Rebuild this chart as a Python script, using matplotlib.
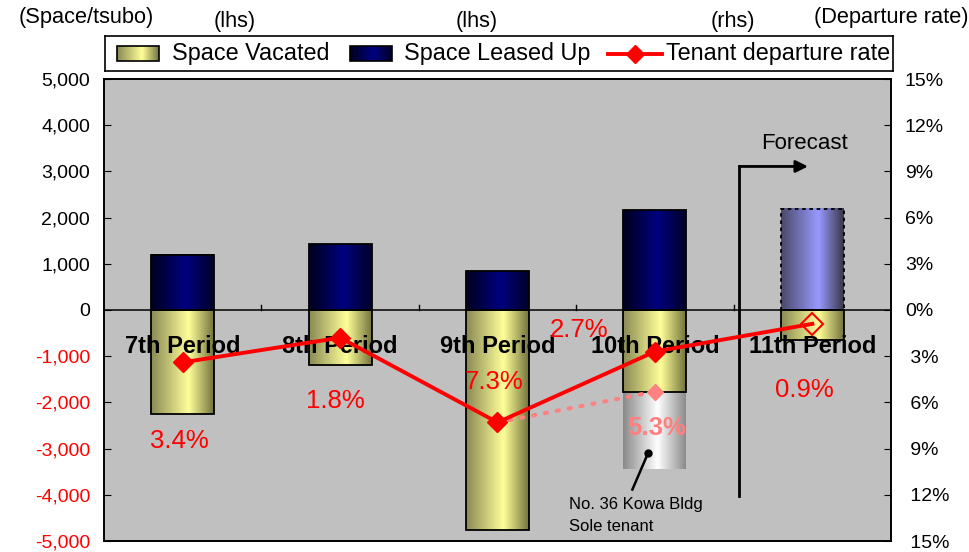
import numpy as np
import matplotlib
matplotlib.use("Agg")
import matplotlib.pyplot as plt
from matplotlib.patches import Rectangle
from matplotlib.ticker import FuncFormatter

plt.rcParams['font.family'] = ['Liberation Sans', 'DejaVu Sans']

# space in tsubo per period (lhs), departure rate in % (rhs)
periods = ["7th Period", "8th Period", "9th Period", "10th Period", "11th Period"]
leased = [1200, 1420, 840, 2160, 2190]
vacated = [-2260, -1200, -4770, -1780, -640]
kowa_extra = -1660          # No. 36 Kowa Bldg, 10th period
rate = [3.4, 1.8, 7.3, 2.7, 0.9]
rate_ex_kowa = 5.3          # 10th period rate including the sole tenant
rate_labels = ["3.4%", "1.8%", "7.3%", "2.7%", "0.9%"]

W, H = 970, 552
fig = plt.figure(figsize=(W / 100, H / 100), dpi=100)
fig.patch.set_facecolor("white")

def fx(px):
    return px / W

def fy(py):
    return 1 - py / H

ax = fig.add_axes([fx(104), fy(541), fx(891) - fx(104), fy(79) - fy(541)])
ax.set_facecolor("#c0c0c0")
ax2 = ax.twinx()

bw = 0.40

def gradient(stops, n=64):
    pos = [s[0] for s in stops]
    cols = [matplotlib.colors.to_rgb(s[1]) for s in stops]
    t = np.linspace(0, 1, n)
    arr = np.stack([np.interp(t, pos, [c[k] for c in cols]) for k in range(3)], axis=-1)
    return arr[np.newaxis, :, :]

YELLOW = [(0, "#8a8a55"), (0.6, "#ffff99"), (1, "#75753e")]
NAVY = [(0, "#00001e"), (0.55, "#000080"), (1, "#00002a")]
LAVENDER = [(0, "#4a4a6a"), (0.6, "#9999ff"), (1, "#38384a")]
SILVER = [(0, "#8a8a8a"), (0.55, "#ffffff"), (1, "#8c8c8c")]

def grad_bar(a, x, y0, y1, stops, w=bw, **edge):
    a.imshow(gradient(stops), extent=[x - w / 2, x + w / 2, min(y0, y1), max(y0, y1)],
             aspect="auto", zorder=2, interpolation="bilinear")
    if edge:
        a.add_patch(Rectangle((x - w / 2, min(y0, y1)), w, abs(y1 - y0), fill=False,
                              zorder=3, **edge))

for i in range(len(periods)):
    forecast = i == len(periods) - 1
    grad_bar(ax, i, 0, leased[i], LAVENDER if forecast else NAVY,
             edgecolor="black", linewidth=1.3, linestyle=(0, (2, 2)) if forecast else "-")
    grad_bar(ax, i, 0, vacated[i], YELLOW, edgecolor="black", linewidth=1.3)

# sole tenant block under the 10th period bar
grad_bar(ax, 3, vacated[3], vacated[3] + kowa_extra, SILVER)

ax.axhline(0, color="black", lw=1.1, zorder=4)
for b in np.arange(0.5, len(periods) - 0.5, 1.0):
    ax.plot([b, b], [0, 110], color="black", lw=1, zorder=4)

ax.set_xlim(-0.5, len(periods) - 0.5)
ax.set_ylim(-5000, 5000)
ax.set_xticks([])
ax.set_yticks(np.arange(-5000, 5001, 1000))
ax.yaxis.set_major_formatter(FuncFormatter(lambda v, p: f"{v:,.0f}"))
ax.tick_params(axis="y", direction="in", length=5, labelsize=14, pad=10)
for lab, v in zip(ax.get_yticklabels(), np.arange(-5000, 5001, 1000)):
    if v < 0:
        lab.set_color("red")

for i, name in enumerate(periods):
    ax.text(i, -790, name, ha="center", va="center", fontsize=17,
            fontweight="bold", zorder=5)

# forecast marker
ax.plot([3.535, 3.535], [-4016, 3107], color="black", lw=2, zorder=5)
ax.annotate("", xy=(3.99, 3107), xytext=(3.52, 3107),
            arrowprops=dict(arrowstyle="-|>", color="black", lw=2, mutation_scale=18),
            zorder=5)
ax.text(3.948, 3605, "Forecast", ha="center", va="center", fontsize=16)

# callout for the sole tenant
ax.plot([2.958], [-3085], "o", color="black", ms=5, zorder=6)
ax.plot([2.958, 2.857], [-3085, -3886], color="black", lw=1.8, zorder=6)
ax.text(2.457, -4211, "No. 36 Kowa Bldg", ha="left", va="center", fontsize=12)
ax.text(2.457, -4687, "Sole tenant", ha="left", va="center", fontsize=12)

# departure rate line (plotted downwards from zero)
xs = np.arange(len(periods))
neg_rate = [-r for r in rate]
ax2.plot(xs, neg_rate, color="red", lw=2.8, zorder=6)
ax2.plot(xs[:-1], neg_rate[:-1], "D", color="red", ms=10, zorder=7)
ax2.plot(xs[-1], neg_rate[-1], "D", mfc="none", mec="red", mew=1.5, ms=11, zorder=7)
ax2.plot([2, 3], [-rate[2], -rate_ex_kowa], color="#ff8080", lw=3,
         linestyle=(0, (0.5, 2.4)), dash_capstyle="round", zorder=5)
ax2.plot(3, -rate_ex_kowa, "D", color="#ff8080", ms=8, zorder=5)

label_pos = [(-0.024, -8.53), (0.972, -5.94), (1.975, -4.70), (2.52, -1.27), (3.948, -5.22)]
for (lx, ly), txt in zip(label_pos, rate_labels):
    ax2.text(lx, ly, txt, ha="center", va="center", fontsize=18.5, color="red", zorder=8)
ax2.text(3.009, -7.69, f"{rate_ex_kowa}%", ha="center", va="center", fontsize=18.5,
         color="#ff8080", fontweight="bold", zorder=8)

ax2.set_ylim(-15, 15)
ax2.set_yticks(np.arange(-15, 16, 3))
ax2.yaxis.set_major_formatter(
    FuncFormatter(lambda v, p: f"{abs(v):.0f}%" if v >= 0 else f" {abs(v):.0f}%"))
ax2.tick_params(axis="y", direction="in", length=5, labelsize=14, pad=10)

for a in (ax, ax2):
    for s in a.spines.values():
        s.set_color("black")
        s.set_linewidth(1.2)

# axis captions along the top
fig.text(fx(86), fy(17), "(Space/tsubo)", ha="center", va="center", fontsize=15.7)
fig.text(fx(235), fy(22), "(lhs)", ha="center", va="center", fontsize=15.7)
fig.text(fx(477), fy(22), "(lhs)", ha="center", va="center", fontsize=15.7)
fig.text(fx(733), fy(22), "(rhs)", ha="center", va="center", fontsize=15.7)
fig.text(fx(891), fy(17), "(Departure rate)", ha="center", va="center", fontsize=15.7)

# legend box drawn in pixel units
lg = fig.add_axes([fx(105), fy(71), fx(893) - fx(105), fy(36) - fy(71)])
lg.set_xticks([])
lg.set_yticks([])
for s in lg.spines.values():
    s.set_color("black")
    s.set_linewidth(1.2)
lg.imshow(gradient(YELLOW), extent=[117, 159, 61, 46], aspect="auto")
lg.add_patch(Rectangle((117, 46), 42, 15, fill=False, edgecolor="black", lw=1.2))
lg.text(172, 53.5, "Space Vacated", va="center", fontsize=16.8)
lg.imshow(gradient(NAVY), extent=[350, 392, 61, 46], aspect="auto")
lg.add_patch(Rectangle((350, 46), 42, 15, fill=False, edgecolor="black", lw=1.2))
lg.text(404, 53.5, "Space Leased Up", va="center", fontsize=16.8)
lg.plot([608, 662], [53.5, 53.5], color="red", lw=2.8)
lg.plot([635], [53.5], "D", color="red", ms=9)
lg.text(666, 53.5, "Tenant departure rate", va="center", fontsize=16.8)
lg.set_xlim(105, 893)
lg.set_ylim(71, 36)

fig.savefig("out.png", dpi=100)
